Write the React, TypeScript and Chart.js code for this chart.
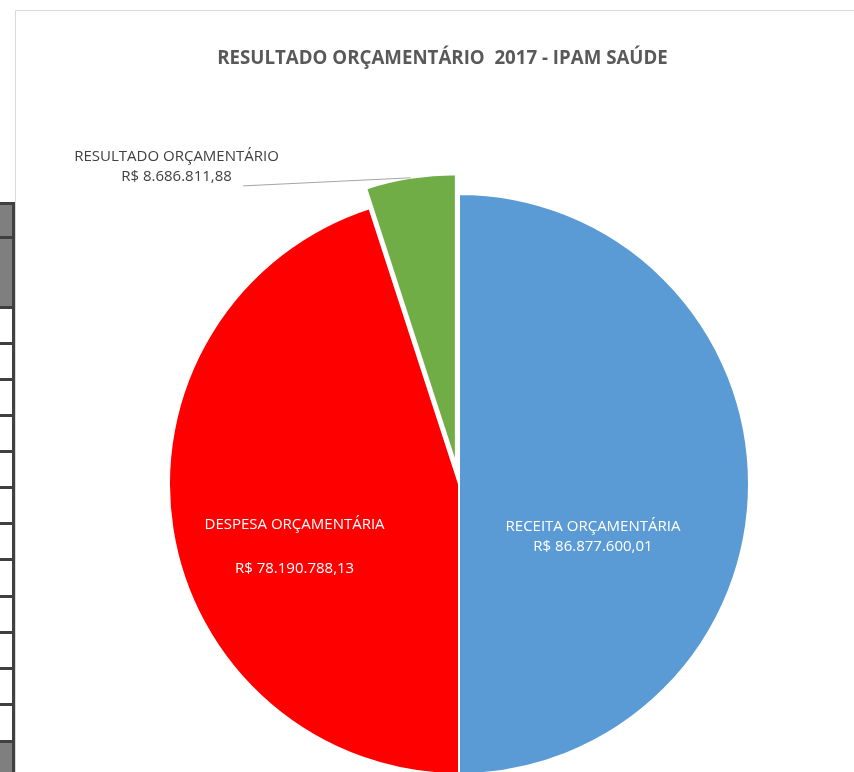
import React, { useEffect, useRef } from "react";
import { Chart, registerables } from "chart.js";

Chart.register(...registerables);

// ---- data ----
const chartTitle = "RESULTADO ORÇAMENTÁRIO  2017 - IPAM SAÚDE";
const categories = ["RECEITA ORÇAMENTÁRIA", "DESPESA ORÇAMENTÁRIA", "RESULTADO ORÇAMENTÁRIO"];
const values = [86877600.01, 78190788.13, 8686811.88];
const sliceColors = ["#5B9BD5", "#FF0000", "#70AD47"];
const explodePx = [0, 0, 20];

// ---- helpers ----
function formatBRL(v: number): string {
  const fixed = v.toFixed(2);
  const [intPart, dec] = fixed.split(".");
  const withDots = intPart.replace(/\B(?=(\d{3})+(?!\d))/g, ".");
  return "R$ " + withDots + "," + dec;
}

const FONT = '"Open Sans", "Noto Sans", sans-serif';

// label placement (style): relative to pie centre, in radius units
const labelStyle = [
  { kind: "inside", fx: 0.462, fy: 0.181, blankLine: false, lineH: 20, color: "#ffffff" },
  { kind: "inside", fx: -0.567, fy: 0.216, blankLine: true, lineH: 22, color: "#ffffff" },
  { kind: "outside", fx: -0.974, fy: -1.095, lx: -0.744, ly: -1.028, blankLine: false, lineH: 20, color: "#404040" },
];

const frameLeft = 15.5;
const frameTop = 10.5;

const piePlugin = {
  id: "excelPie",
  beforeDraw(chart: any) {
    const ctx = chart.ctx;
    ctx.save();
    ctx.fillStyle = "#ffffff";
    ctx.fillRect(frameLeft, frameTop, chart.width - frameLeft, chart.height - frameTop);
    ctx.strokeStyle = "#d9d9d9";
    ctx.lineWidth = 1;
    ctx.beginPath();
    ctx.moveTo(frameLeft, chart.height);
    ctx.lineTo(frameLeft, frameTop);
    ctx.lineTo(chart.width, frameTop);
    ctx.stroke();
    // title
    ctx.fillStyle = "#595959";
    ctx.font = "bold 18.7px " + FONT;
    ctx.textAlign = "center";
    ctx.textBaseline = "middle";
    ctx.fillText(chartTitle, 442.5, 58.5);
    ctx.restore();
  },
  beforeDatasetDraw(chart: any, args: any) {
    const ctx = chart.ctx;
    const meta = args.meta;
    meta.data.forEach((arc: any, i: number) => {
      const d = explodePx[i] || 0;
      const mid = (arc.startAngle + arc.endAngle) / 2;
      ctx.save();
      ctx.translate(Math.cos(mid) * d, Math.sin(mid) * d);
      arc.draw(ctx);
      ctx.restore();
    });
    return false;
  },
  afterDatasetsDraw(chart: any) {
    const ctx = chart.ctx;
    const meta = chart.getDatasetMeta(0);
    ctx.save();
    ctx.font = "15px " + FONT;
    ctx.textAlign = "center";
    ctx.textBaseline = "middle";
    meta.data.forEach((arc: any, i: number) => {
      const st = labelStyle[i];
      const r = arc.outerRadius;
      const cx = arc.x;
      const cy = arc.y;
      const lines = st.blankLine
        ? [categories[i], "", formatBRL(values[i])]
        : [categories[i], formatBRL(values[i])];
      const tx = cx + st.fx * r;
      const ty = cy + st.fy * r;
      if (st.kind === "outside") {
        const mid = (arc.startAngle + arc.endAngle) / 2;
        const d = explodePx[i] || 0;
        const ex = cx + Math.cos(mid) * (r + d);
        const ey = cy + Math.sin(mid) * (r + d);
        ctx.strokeStyle = "#a6a6a6";
        ctx.lineWidth = 1;
        ctx.beginPath();
        ctx.moveTo(cx + (st as any).lx * r, cy + (st as any).ly * r);
        ctx.lineTo(ex, ey);
        ctx.stroke();
      }
      ctx.fillStyle = st.color;
      const total = (lines.length - 1) * st.lineH;
      lines.forEach((ln, k) => {
        if (ln) ctx.fillText(ln, tx, ty - total / 2 + k * st.lineH);
      });
    });
    ctx.restore();
  },
};

const cellLines = [202, 236, 306, 342, 378, 414, 450, 486, 522, 558, 595, 631, 667, 703, 740];
const greyCells = [0, 1, 14];

function SheetStrip() {
  const items: any[] = [];
  for (let i = 0; i < cellLines.length; i++) {
    const top = cellLines[i];
    const bottom = i + 1 < cellLines.length ? cellLines[i + 1] : 780;
    items.push(
      <div
        key={"c" + i}
        style={{
          position: "absolute",
          left: 0,
          top: top,
          width: 12,
          height: bottom - top,
          background: greyCells.includes(i) ? "#7f7f7f" : "#ffffff",
        }}
      />
    );
    items.push(
      <div
        key={"l" + i}
        style={{ position: "absolute", left: 0, top: top, width: 15, height: 3, background: "#404040" }}
      />
    );
  }
  items.push(
    <div
      key="v"
      style={{ position: "absolute", left: 12, top: cellLines[0], width: 3, height: 780 - cellLines[0], background: "#404040" }}
    />
  );
  return <>{items}</>;
}

export default function App() {
  const ref = useRef<HTMLCanvasElement | null>(null);
  useEffect(() => {
    if (!ref.current) return;
    const chart = new Chart(ref.current, {
      type: "pie",
      data: {
        labels: categories,
        datasets: [
          {
            data: values,
            backgroundColor: sliceColors,
            borderColor: "#ffffff",
            borderWidth: 2,
          },
        ],
      },
      options: {
        responsive: false,
        animation: false,
        radius: 290,
        layout: { padding: { left: 64, top: 196, right: 0, bottom: 0 } },
        plugins: {
          legend: { display: false },
          tooltip: { enabled: false },
          title: { display: false },
        },
        events: [],
      } as any,
      plugins: [piePlugin as any],
    });
    return () => chart.destroy();
  }, []);
  return (
    <div style={{ position: "fixed", left: 0, top: 0, width: 854, height: 772, overflow: "hidden", background: "#ffffff" }}>
      <SheetStrip />
      <canvas ref={ref} width={854} height={772} style={{ position: "absolute", left: 0, top: 0, width: 854, height: 772 }} />
    </div>
  );
}
